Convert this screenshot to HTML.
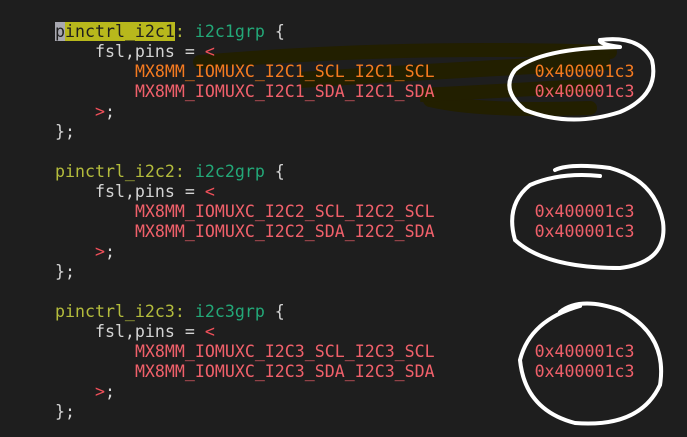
<!DOCTYPE html>
<html><head><style>
html,body{margin:0;padding:0;background:#1e1e1e;width:687px;height:437px;overflow:hidden}
pre{position:absolute;left:55px;top:22px;margin:0;font-family:"DejaVu Sans Mono","Liberation Mono",monospace;font-size:16.6px;line-height:20px;color:#d4d4d4;white-space:pre;z-index:2}
.l{color:#b4bc3c}.g{color:#23a878}.r{color:#f0505a}.o{color:#f57a20}.p{color:#f0606a}
.h{background:#b8b81c;color:#1e1e1e}.c{background:#a8a8b0;color:#1e1e1e}
svg{position:absolute;left:0;top:0}
</style></head><body>
<svg width="687" height="437" style="z-index:1">
<path d="M200 62 Q400 45 610 52" stroke="#221f00" stroke-width="14" fill="none" stroke-linecap="round"/>
<path d="M300 80 Q450 70 610 62" stroke="#221f00" stroke-width="16" fill="none"/>
<path d="M430 100 Q480 112 590 108" stroke="#221f00" stroke-width="14" fill="none" stroke-linecap="round"/>
<path d="M420 95 Q520 90 600 85" stroke="#221f00" stroke-width="14" fill="none"/>
</svg>
<svg width="687" height="437" style="z-index:3">
<g stroke="#fff" stroke-width="4" fill="none" stroke-linecap="round">
<path d="M620 47 Q598 44 600 40 Q640 35 652 60 Q660 95 620 112 Q570 128 525 110 Q500 90 515 70 Q540 48 620 47"/>
<path d="M600 176 Q560 172 530 185 Q505 205 515 240 Q545 268 620 268 Q668 262 663 222 Q655 180 610 168 Q570 163 555 170"/>
<path d="M580 306 Q530 320 520 360 Q525 410 575 423 Q640 428 660 385 Q668 335 620 310 Q580 296 560 312"/>
</g>
</svg>
<pre><span class="c">p</span><span class="h">inctrl_i2c1</span><span class="l">:</span> <span class="g">i2c1grp</span> {
    fsl,pins = <span class="r">&lt;</span>
        <span class="o">MX8MM_IOMUXC_I2C1_SCL_I2C1_SCL</span>          <span class="o">0x400001c3</span>
        <span class="p">MX8MM_IOMUXC_I2C1_SDA_I2C1_SDA</span>          <span class="p">0x400001c3</span>
    <span class="r">&gt;</span>;
};

<span class="l">pinctrl_i2c2:</span> <span class="g">i2c2grp</span> {
    fsl,pins = <span class="r">&lt;</span>
        <span class="p">MX8MM_IOMUXC_I2C2_SCL_I2C2_SCL</span>          <span class="p">0x400001c3</span>
        <span class="p">MX8MM_IOMUXC_I2C2_SDA_I2C2_SDA</span>          <span class="p">0x400001c3</span>
    <span class="r">&gt;</span>;
};

<span class="l">pinctrl_i2c3:</span> <span class="g">i2c3grp</span> {
    fsl,pins = <span class="r">&lt;</span>
        <span class="p">MX8MM_IOMUXC_I2C3_SCL_I2C3_SCL</span>          <span class="p">0x400001c3</span>
        <span class="p">MX8MM_IOMUXC_I2C3_SDA_I2C3_SDA</span>          <span class="p">0x400001c3</span>
    <span class="r">&gt;</span>;
};</pre>
</body></html>
